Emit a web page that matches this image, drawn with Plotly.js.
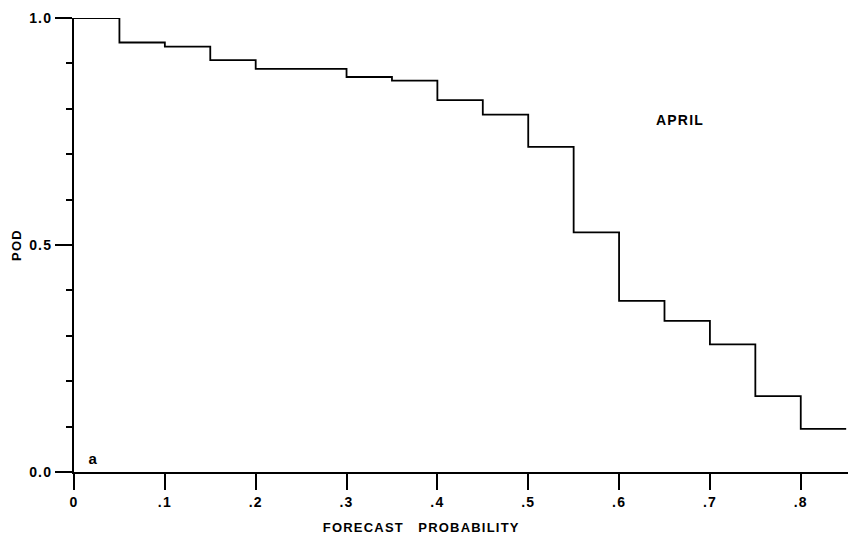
<!DOCTYPE html>
<html>
<head>
<meta charset="utf-8">
<script src="https://cdn.plot.ly/plotly-3.0.1.min.js"></script>
<style>
html,body{margin:0;padding:0;background:#fff;}
#chart{width:848px;height:539px;}
#chart text{letter-spacing:1.2px;}
</style>
</head>
<body>
<div id="chart"></div>
<script>
// Bin edges of forecast probability (lower edge of each bin), and POD for each bin
const binStarts = [0, 0.05, 0.10, 0.15, 0.20, 0.25, 0.30, 0.35, 0.40, 0.45, 0.50, 0.55, 0.60, 0.65, 0.70, 0.75, 0.80];
const binEnd = 0.85;
const podValues = [1.0, 0.946, 0.937, 0.907, 0.888, 0.888, 0.870, 0.862, 0.819, 0.787, 0.716, 0.528, 0.377, 0.333, 0.281, 0.167, 0.095];
const xTickVals = [0, 0.1, 0.2, 0.3, 0.4, 0.5, 0.6, 0.7, 0.8];
const xTickText = ['0', '.1', '.2', '.3', '.4', '.5', '.6', '.7', '.8'];
const yTickVals = [0, 0.5, 1.0];
const yTickText = ['0.0', '0.5', '1.0'];

const xs = binStarts.concat([binEnd]);
const ys = podValues.concat([podValues[podValues.length - 1]]);

const font = {family: 'Liberation Sans, Arial, sans-serif', color: '#000'};

const trace = {
  x: xs, y: ys, type: 'scatter', mode: 'lines',
  line: {shape: 'hv', color: '#000', width: 1.8},
  cliponaxis: false, hoverinfo: 'skip'
};

const layout = {
  width: 848, height: 539,
  margin: {l: 74, r: 0, t: 18, b: 67},
  paper_bgcolor: '#fff', plot_bgcolor: '#fff',
  showlegend: false,
  xaxis: {
    range: [0, 0.852], showgrid: false, zeroline: false,
    showline: true, linecolor: '#000', linewidth: 2,
    ticks: 'outside', ticklen: 16, tickwidth: 2, tickcolor: '#000',
    tickvals: xTickVals, ticktext: xTickText,
    tickfont: Object.assign({size: 14, weight: 'bold'}, font)
  },
  yaxis: {
    range: [0, 1.0], showgrid: false, zeroline: false,
    showline: true, linecolor: '#000', linewidth: 2,
    ticks: 'outside', ticklen: 17, tickwidth: 2, tickcolor: '#000',
    tickvals: yTickVals, ticktext: yTickText,
    tickfont: Object.assign({size: 14, weight: 'bold'}, font),
    minor: {dtick: 0.1, ticks: 'outside', ticklen: 6, tickwidth: 2, tickcolor: '#000', showgrid: false},
    title: {text: 'POD', standoff: 8,
            font: Object.assign({size: 13, weight: 'bold'}, font)}
  },
  annotations: [
    {x: 0.383, y: -0.123, xref: 'x', yref: 'paper', text: 'FORECAST\u00a0\u00a0\u00a0PROBABILITY',
     showarrow: false, xanchor: 'center', yanchor: 'middle',
     font: Object.assign({size: 13, weight: 'bold'}, font)},
    {x: 0.667, y: 0.775, xref: 'x', yref: 'y', text: 'APRIL', showarrow: false,
     xanchor: 'center', yanchor: 'middle',
     font: Object.assign({size: 14, weight: 'bold'}, font)},
    {x: 0.022, y: 0.03, xref: 'x', yref: 'y', text: 'a', showarrow: false,
     xanchor: 'center', yanchor: 'middle',
     font: Object.assign({size: 15, weight: 'bold'}, font)}
  ]
};

Plotly.newPlot('chart', [trace], layout, {displayModeBar: false, staticPlot: true});
</script>
</body>
</html>
